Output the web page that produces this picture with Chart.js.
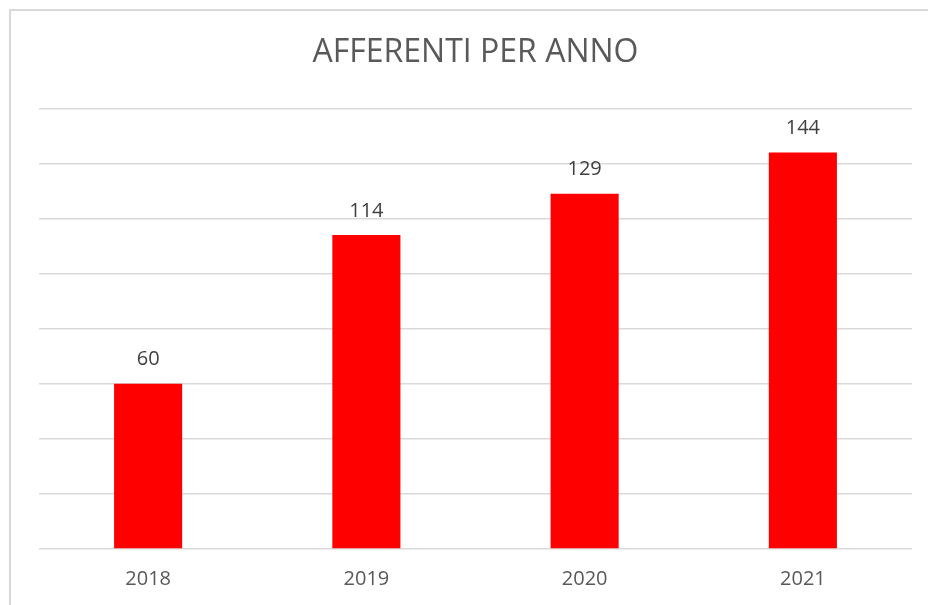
<!DOCTYPE html>
<html>
<head>
<meta charset="utf-8">
<script src="https://cdn.jsdelivr.net/npm/chart.js@4"></script>
<style>
    body { margin: 0; background: #fff; overflow: hidden; }
    #frame {
        position: absolute; left: 9px; top: 9px; width: 1000px; height: 700px;
        border-left: 2px solid #d9d9d9; border-top: 2px solid #d9d9d9;
    }
    #wrap { position: absolute; left: 0; top: 0; width: 928px; height: 605px; }
</style>
</head>
<body>
<div id="frame"></div>
<div id="wrap"><canvas id="chart"></canvas></div>
<script>
const years = ["2018", "2019", "2020", "2021"];
const afferenti = [60, 114, 129, 144];
const titleText = "AFFERENTI PER ANNO";

// Draw the value above each bar
const valueLabels = {
    id: "valueLabels",
    afterDatasetsDraw(chart) {
        const ctx = chart.ctx;
        const meta = chart.getDatasetMeta(0);
        ctx.save();
        ctx.font = "20px 'Open Sans'";
        ctx.fillStyle = "#404040";
        ctx.textAlign = "center";
        ctx.textBaseline = "bottom";
        meta.data.forEach((bar, i) => {
            ctx.fillText(afferenti[i], bar.x, bar.y - 14);
        });
        ctx.restore();
    }
};

const ctx = document.getElementById("chart").getContext("2d");
new Chart(ctx, {
    type: "bar",
    data: {
        labels: years,
        datasets: [{
            data: afferenti,
            backgroundColor: "#ff0000",
            borderWidth: 0,
            categoryPercentage: 1,
            barPercentage: 0.312,
        }],
    },
    options: {
        responsive: true,
        maintainAspectRatio: false,
        animation: false,
        layout: { padding: { left: 39, right: 16, top: 34, bottom: 4 } },
        plugins: {
            legend: { display: false },
            tooltip: { enabled: false },
            title: {
                display: true,
                text: titleText,
                color: "#595959",
                font: { family: "'Open Sans'", size: 32, weight: "normal" },
                padding: { top: 0, bottom: 36 },
            },
        },
        scales: {
            x: {
                grid: { display: false },
                border: { display: false },
                ticks: {
                    color: "#595959",
                    font: { family: "'Open Sans'", size: 20 },
                    padding: 10,
                },
            },
            y: {
                min: 0,
                max: 160,
                ticks: { display: false, stepSize: 20 },
                grid: { color: "#d9d9d9", lineWidth: 1.5, drawTicks: false },
                border: { display: false },
            },
        },
    },
    plugins: [valueLabels],
});
</script>
</body>
</html>
